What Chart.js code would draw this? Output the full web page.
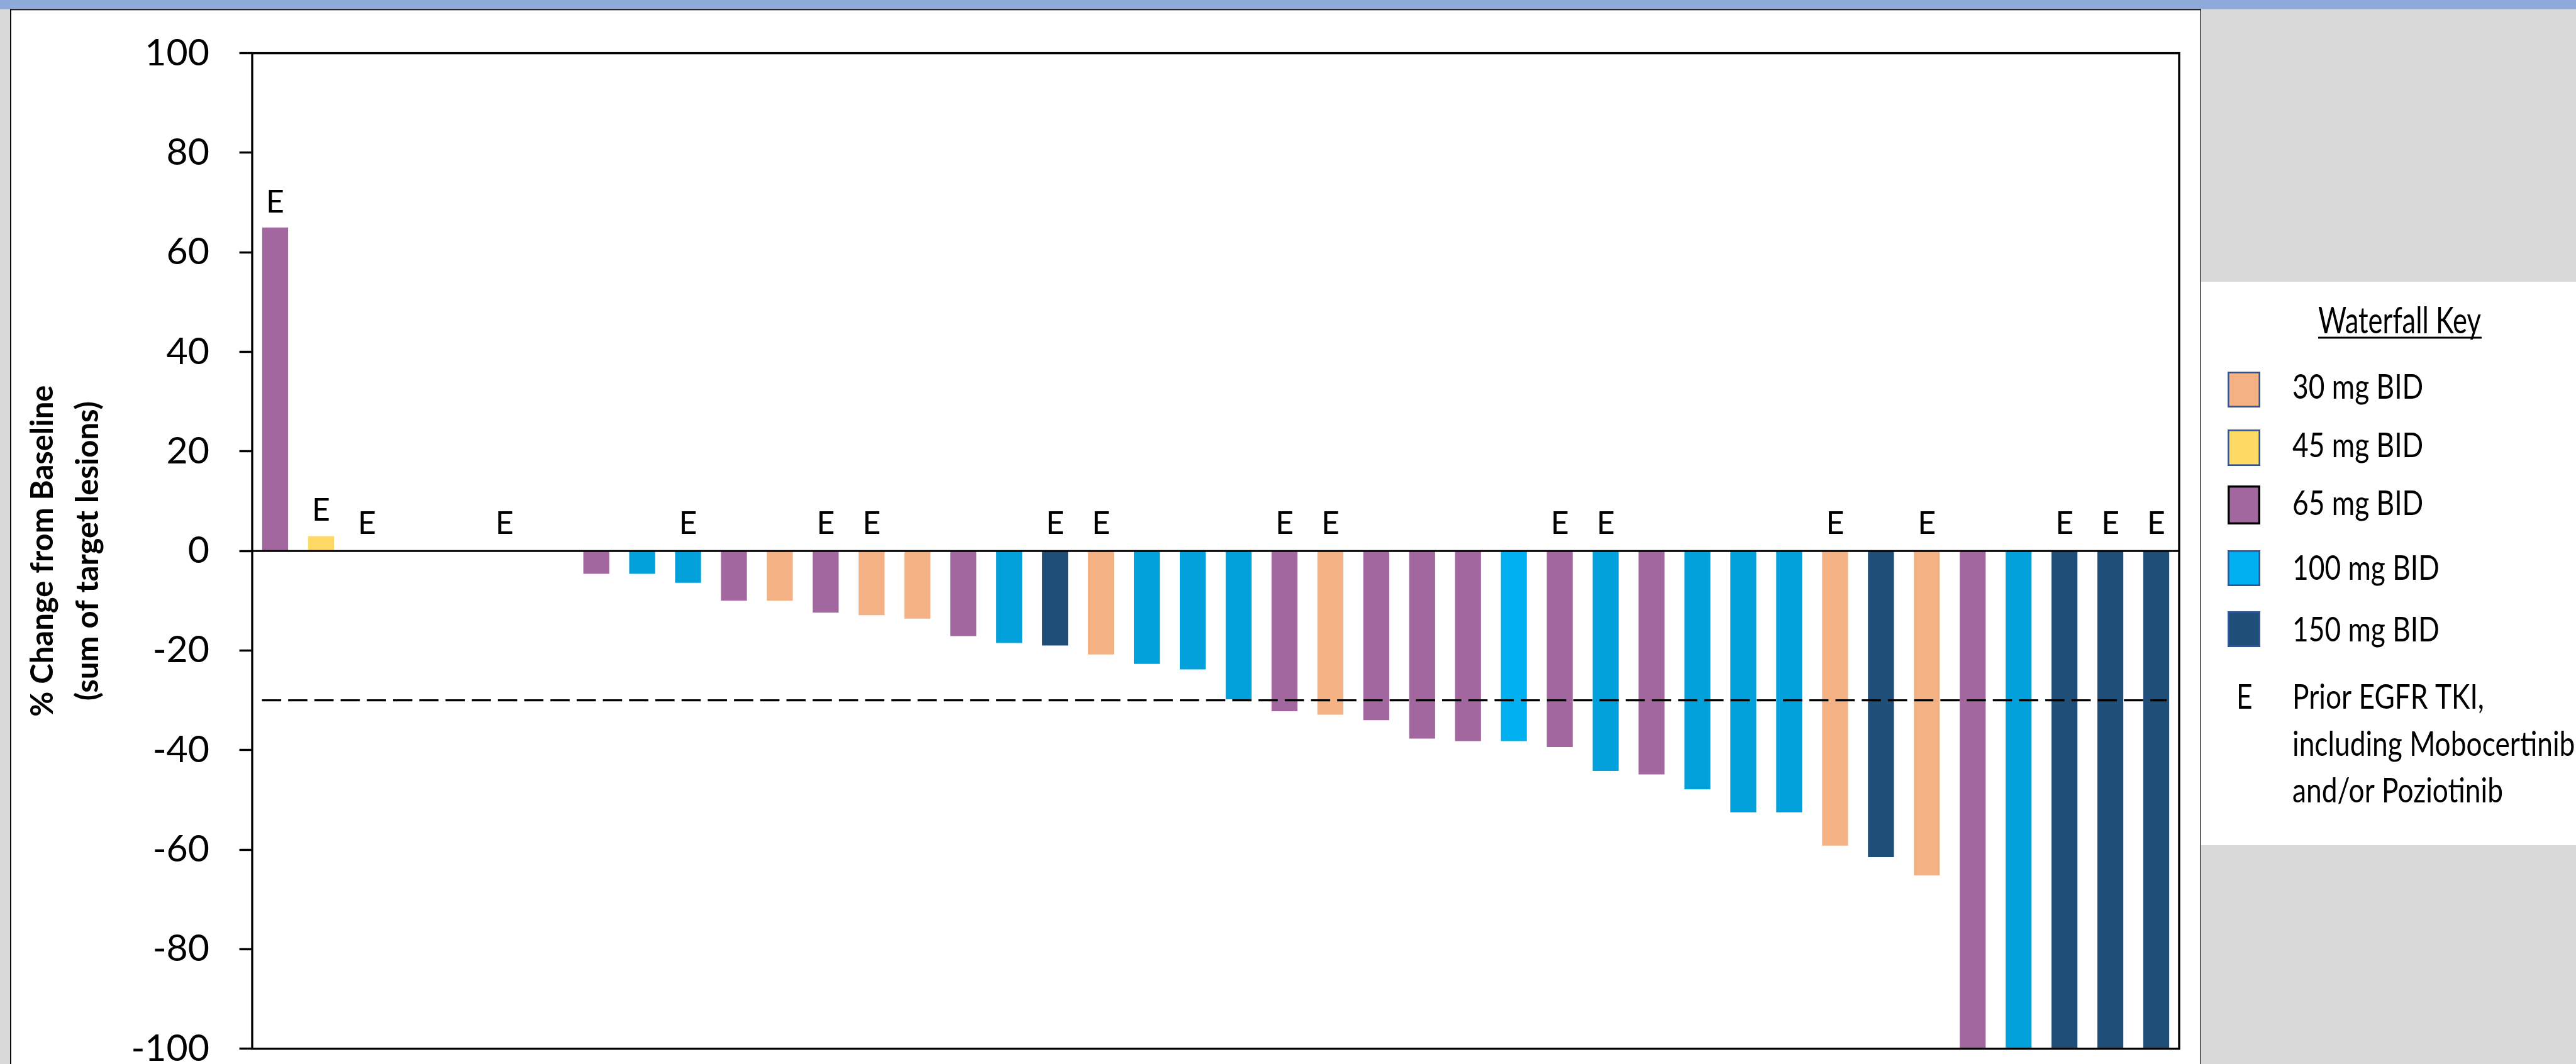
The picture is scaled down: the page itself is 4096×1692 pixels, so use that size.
<!DOCTYPE html>
<html>
<head>
<meta charset="utf-8">
<title>Waterfall plot – % change from baseline</title>
<script src="https://cdn.jsdelivr.net/npm/chart.js@4/dist/chart.umd.min.js"></script>
<style>
  html, body { margin: 0; padding: 0; background: #d9d9d9; overflow: hidden; }
  canvas { display: block; }
</style>
</head>
<body>
<canvas id="waterfall" width="4096" height="1692" style="width:4096px;height:1692px"></canvas>
<script>
// ---- data -------------------------------------------------------------
const patients = ['P01','P02','P03','P04','P05','P06','P07','P08','P09','P10',
                  'P11','P12','P13','P14','P15','P16','P17','P18','P19','P20',
                  'P21','P22','P23','P24','P25','P26','P27','P28','P29','P30',
                  'P31','P32','P33','P34','P35','P36','P37','P38','P39','P40',
                  'P41','P42'];

// best % change from baseline in the sum of target lesions
const pctChange = [65, 3, 0, 0, 0, 0, 0, -4.6, -4.6, -6.4,
                   -10, -10, -12.4, -12.9, -13.6, -17.1, -18.5, -19.0, -20.8, -22.7,
                   -23.8, -29.8, -32.2, -32.9, -34.0, -37.7, -38.2, -38.2, -39.4, -44.2,
                   -44.9, -47.9, -52.5, -52.5, -59.2, -61.5, -65.2, -100, -100, -100,
                   -100, -100];

// dose level (mg BID) per patient; null where no bar is drawn
const doseMg = [65, 45, null, null, null, null, null, 65, 100, 100,
                65, 30, 65, 30, 30, 65, 100, 150, 30, 100,
                100, 100, 65, 30, 65, 65, 65, 100, 65, 100,
                65, 100, 100, 100, 30, 150, 30, 65, 100, 150,
                150, 150];

// 1 = prior EGFR TKI (marked "E")
const priorEgfrTki = [1, 1, 1, 0, 0, 1, 0, 0, 0, 1,
                      0, 0, 1, 1, 0, 0, 0, 1, 1, 0,
                      0, 0, 1, 1, 0, 0, 0, 0, 1, 1,
                      0, 0, 0, 0, 1, 0, 1, 0, 0, 1,
                      1, 1];

const yTickValues = [-100, -80, -60, -40, -20, 0, 20, 40, 60, 80, 100];
const responseThreshold = -30;

const doseLevels = [30, 45, 65, 100, 150];
const doseLabels = ['30 mg BID', '45 mg BID', '65 mg BID', '100 mg BID', '150 mg BID'];
const doseColors = ['#f4b183', '#ffd966', '#a2679e', '#00b0f0', '#1f4e79'];
const doseBarColors = ['#f4b183', '#ffd966', '#a2679e', '#02a1db', '#1f4e79'];
const brightCyanBars = ['P28'];

const keyTitle = 'Waterfall Key';
const keyNoteMark = 'E';
const keyNote = ['Prior EGFR TKI,', 'including Mobocertinib', 'and/or Poziotinib'];
const axisTitle = ['% Change from Baseline', '(sum of target lesions)'];

// ---- colours per bar ----------------------------------------------------
const barFills = patients.map((p, i) => {
  const k = doseLevels.indexOf(doseMg[i]);
  if (k < 0) return 'rgba(0,0,0,0)';
  if (brightCyanBars.includes(p)) return doseColors[k];
  return doseBarColors[k];
});

// ---- page background, panel and key box ---------------------------------
const pagePlugin = {
  id: 'page',
  beforeDraw(chart) {
    const ctx = chart.ctx;
    const W = chart.width, H = chart.height;
    ctx.save();
    ctx.fillStyle = '#d9d9d9';
    ctx.fillRect(0, 0, W, H);
    ctx.fillStyle = '#8eaadb';
    ctx.fillRect(0, 0, W, 14.5);
    ctx.fillStyle = '#ffffff';
    ctx.fillRect(17, 15.5, 3499 - 17, H - 15.5);
    ctx.fillRect(3499, 448, W - 3499, 1344 - 448);
    ctx.fillStyle = '#000000';
    ctx.fillRect(16, 14.5, 3500 - 16, 1.8);
    ctx.fillRect(16, 14.5, 1.8, H - 14.5);
    ctx.fillStyle = '#222222';
    ctx.fillRect(3498.3, 14.5, 1.4, H - 14.5);
    ctx.restore();
  }
};

// ---- zero line, threshold, plot frame and "E" marks ---------------------
const overlayPlugin = {
  id: 'overlay',
  afterDatasetsDraw(chart) {
    const ctx = chart.ctx;
    const ca = chart.chartArea;
    const y = chart.scales.y;
    const y0 = y.getPixelForValue(0);
    const yt = y.getPixelForValue(responseThreshold);
    ctx.save();
    ctx.strokeStyle = '#000000';

    ctx.lineWidth = 3;
    ctx.beginPath();
    ctx.moveTo(ca.left, y0);
    ctx.lineTo(ca.right, y0);
    ctx.stroke();

    ctx.lineWidth = 3.4;
    ctx.setLineDash([30.6, 11.1]);
    ctx.beginPath();
    ctx.moveTo(ca.left + 15.5, yt);
    ctx.lineTo(ca.right - 20, yt);
    ctx.stroke();
    ctx.setLineDash([]);

    ctx.lineWidth = 3.4;
    ctx.strokeRect(ca.left, ca.top, ca.right - ca.left, ca.bottom - ca.top);

    const meta = chart.getDatasetMeta(0);
    ctx.fillStyle = '#000000';
    ctx.font = '50px Lato';
    ctx.textAlign = 'center';
    ctx.textBaseline = 'alphabetic';
    meta.data.forEach((bar, i) => {
      if (!priorEgfrTki[i]) return;
      const base = pctChange[i] > 0 ? bar.y - 24 : y0 - 27;
      ctx.fillText(keyNoteMark, bar.x, base);
    });
    ctx.restore();
  }
};

// ---- dose key ------------------------------------------------------------
function fittedText(ctx, text, x, baseline, sx) {
  ctx.save();
  ctx.translate(x, baseline);
  ctx.scale(sx, 1);
  ctx.fillText(text, 0, 0);
  ctx.restore();
}

const keyPlugin = {
  id: 'doseKey',
  afterDraw(chart) {
    const ctx = chart.ctx;
    ctx.save();
    ctx.fillStyle = '#000000';
    ctx.textAlign = 'left';
    ctx.textBaseline = 'alphabetic';

    ctx.font = '59px Lato';
    const hsx = 259 / ctx.measureText(keyTitle).width;
    fittedText(ctx, keyTitle, 3686, 529.6, hsx);
    ctx.fillRect(3686, 535.5, 260, 3);

    ctx.font = '54px Lato';
    const sx = 335 / ctx.measureText(keyNote[2]).width;

    const tops = [591, 683, 772, 875, 972];
    const heights = [57, 58, 62, 57, 57];
    const baselines = [634, 727, 819, 922, 1020];
    doseLabels.forEach((label, k) => {
      const isBlack = doseLevels[k] === 65;
      const lw = isBlack ? 3.4 : 2.6;
      ctx.fillStyle = doseColors[k];
      ctx.fillRect(3542, tops[k], 52, heights[k]);
      ctx.strokeStyle = isBlack ? '#000000' : '#2f5597';
      ctx.lineWidth = lw;
      ctx.strokeRect(3542 + lw / 2, tops[k] + lw / 2, 52 - lw, heights[k] - lw);
      ctx.fillStyle = '#000000';
      fittedText(ctx, label, 3645, baselines[k], sx);
    });

    fittedText(ctx, keyNoteMark, 3556, 1126.5, sx);
    const noteBase = [1126.5, 1202, 1275.6];
    keyNote.forEach((line, j) => fittedText(ctx, line, 3645, noteBase[j], sx));
    ctx.restore();
  }
};

// ---- chart -----------------------------------------------------------------
function build() {
  const ctx = document.getElementById('waterfall').getContext('2d');
  new Chart(ctx, {
    type: 'bar',
    data: {
      labels: patients,
      datasets: [{
        data: pctChange,
        backgroundColor: barFills,
        borderWidth: 0,
        barPercentage: 0.565,
        categoryPercentage: 1
      }]
    },
    options: {
      responsive: false,
      devicePixelRatio: 1,
      animation: false,
      layout: { padding: { left: 0, top: 84.6, right: 631, bottom: 24.3 } },
      plugins: {
        legend: { display: false },
        tooltip: { enabled: false }
      },
      scales: {
        x: { display: false, offset: true },
        y: {
          min: yTickValues[0],
          max: yTickValues[yTickValues.length - 1],
          afterBuildTicks(scale) {
            scale.ticks = yTickValues.map(v => ({ value: v }));
          },
          ticks: {
            color: '#000000',
            font: { family: 'Lato', size: 59 },
            padding: 47.6,
            callback: v => String(v)
          },
          grid: {
            drawOnChartArea: false,
            drawTicks: true,
            tickLength: 20.4,
            tickWidth: 3.4,
            tickColor: '#000000',
            color: '#000000'
          },
          border: { display: false },
          title: {
            display: true,
            text: axisTitle,
            color: '#000000',
            font: { family: 'Lato', weight: 'bold', size: 49, lineHeight: 1.47 },
            padding: { top: 32, bottom: 0 }
          },
          afterFit(scale) {
            scale.width = 401;
            scale.paddingTop = 0;
            scale.paddingBottom = 0;
          }
        }
      }
    },
    plugins: [pagePlugin, overlayPlugin, keyPlugin]
  });
}

Promise.all([
  document.fonts.load('54px Lato'),
  document.fonts.load('bold 49px Lato')
]).then(build, build);
</script>
</body>
</html>
